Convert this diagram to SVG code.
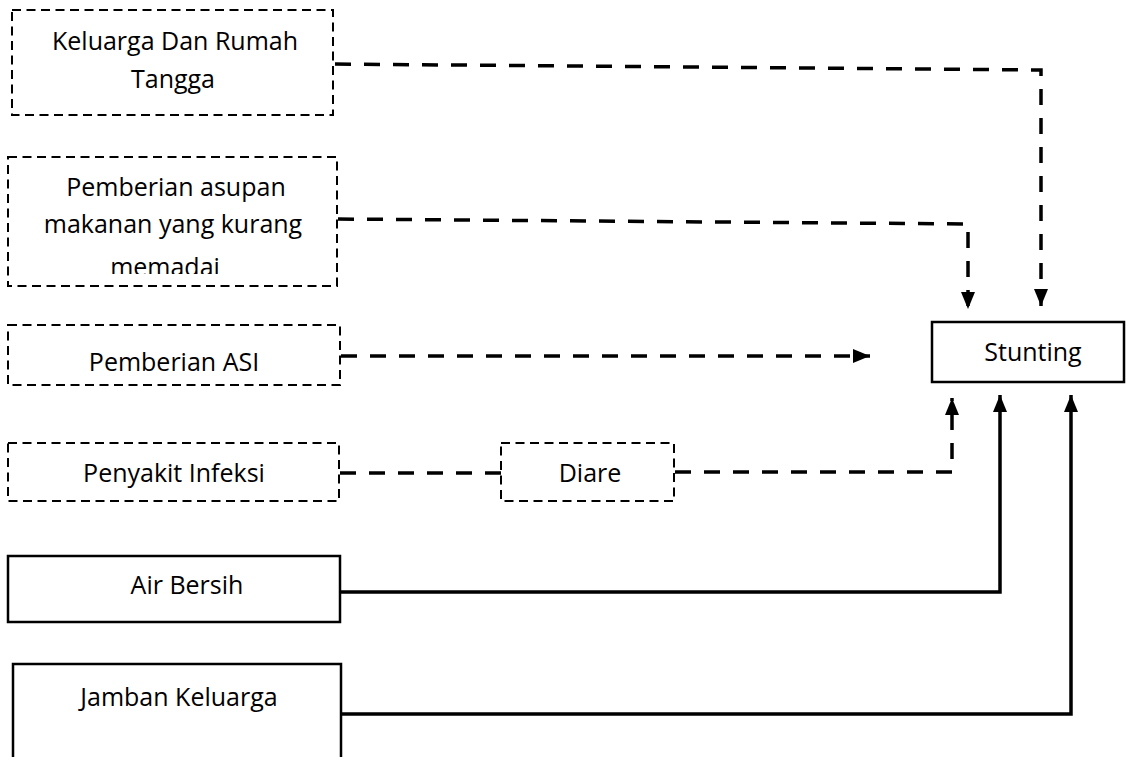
<svg xmlns="http://www.w3.org/2000/svg" width="1126" height="757" viewBox="0 0 1126 757">
<style>
.dbox{fill:#fff;stroke:#000;stroke-width:2;stroke-dasharray:9 5.5}
.sbox{fill:#fff;stroke:#000;stroke-width:2.5}
.t{font-family:"Open Sans","Noto Sans",sans-serif;font-size:25px;fill:#000;text-anchor:middle}
.dl{fill:none;stroke:#000;stroke-width:3.5;stroke-dasharray:16 13}
.sl{fill:none;stroke:#000;stroke-width:3.5}
</style>
<defs>
<marker id="ah" markerUnits="userSpaceOnUse" markerWidth="18" markerHeight="15" refX="17" refY="7" orient="auto" viewBox="0 0 18 15">
<path d="M0,0 L17,7 L0,14 z" fill="#000"/>
</marker>
<clipPath id="clip2"><rect x="8" y="157" width="329" height="117"/></clipPath>
</defs>
<rect width="1126" height="757" fill="#fff"/>
<g id="connectors">
<path class="dl" d="M335,64 L1041,70 L1041,306" marker-end="url(#ah)"/>
<path class="dl" d="M338,219 L968,224 L968,309" marker-end="url(#ah)"/>
<path class="dl" d="M341,356 L870,356" marker-end="url(#ah)"/>
<path class="dl" d="M340,473 L501,473"/>
<path class="dl" d="M675,472 L952,472 L952,398" marker-end="url(#ah)"/>
<path class="sl" d="M341,592 L1000,592 L1000,395" marker-end="url(#ah)"/>
<path class="sl" d="M342,714 L1071,714 L1071,395" marker-end="url(#ah)"/>
</g>
<g id="n1">
<rect class="dbox" x="12" y="10" width="321" height="105"/>
<text class="t" x="175" y="50">Keluarga Dan Rumah</text>
<text class="t" x="173" y="88">Tangga</text>
</g>
<g id="n2">
<rect class="dbox" x="8" y="157" width="329" height="129"/>
<g clip-path="url(#clip2)">
<text class="t" x="176" y="196">Pemberian asupan</text>
<text class="t" x="173" y="233">makanan yang kurang</text>
<text class="t" x="165" y="276">memadai</text>
</g>
</g>
<g id="n3">
<rect class="dbox" x="8" y="325" width="332" height="60"/>
<text class="t" x="174" y="371">Pemberian ASI</text>
</g>
<g id="n4">
<rect class="dbox" x="8" y="443" width="331" height="58"/>
<text class="t" x="174" y="482">Penyakit Infeksi</text>
</g>
<g id="n5">
<rect class="dbox" x="501" y="443" width="173" height="58"/>
<text class="t" x="590" y="482">Diare</text>
</g>
<g id="n6">
<rect class="sbox" x="932" y="322" width="192" height="60"/>
<text class="t" x="1033" y="361">Stunting</text>
</g>
<g id="n7">
<rect class="sbox" x="8" y="556" width="332" height="66"/>
<text class="t" x="187" y="594">Air Bersih</text>
</g>
<g id="n8">
<rect class="sbox" x="13" y="664" width="328" height="100"/>
<text class="t" x="179" y="706">Jamban Keluarga</text>
</g>
</svg>
